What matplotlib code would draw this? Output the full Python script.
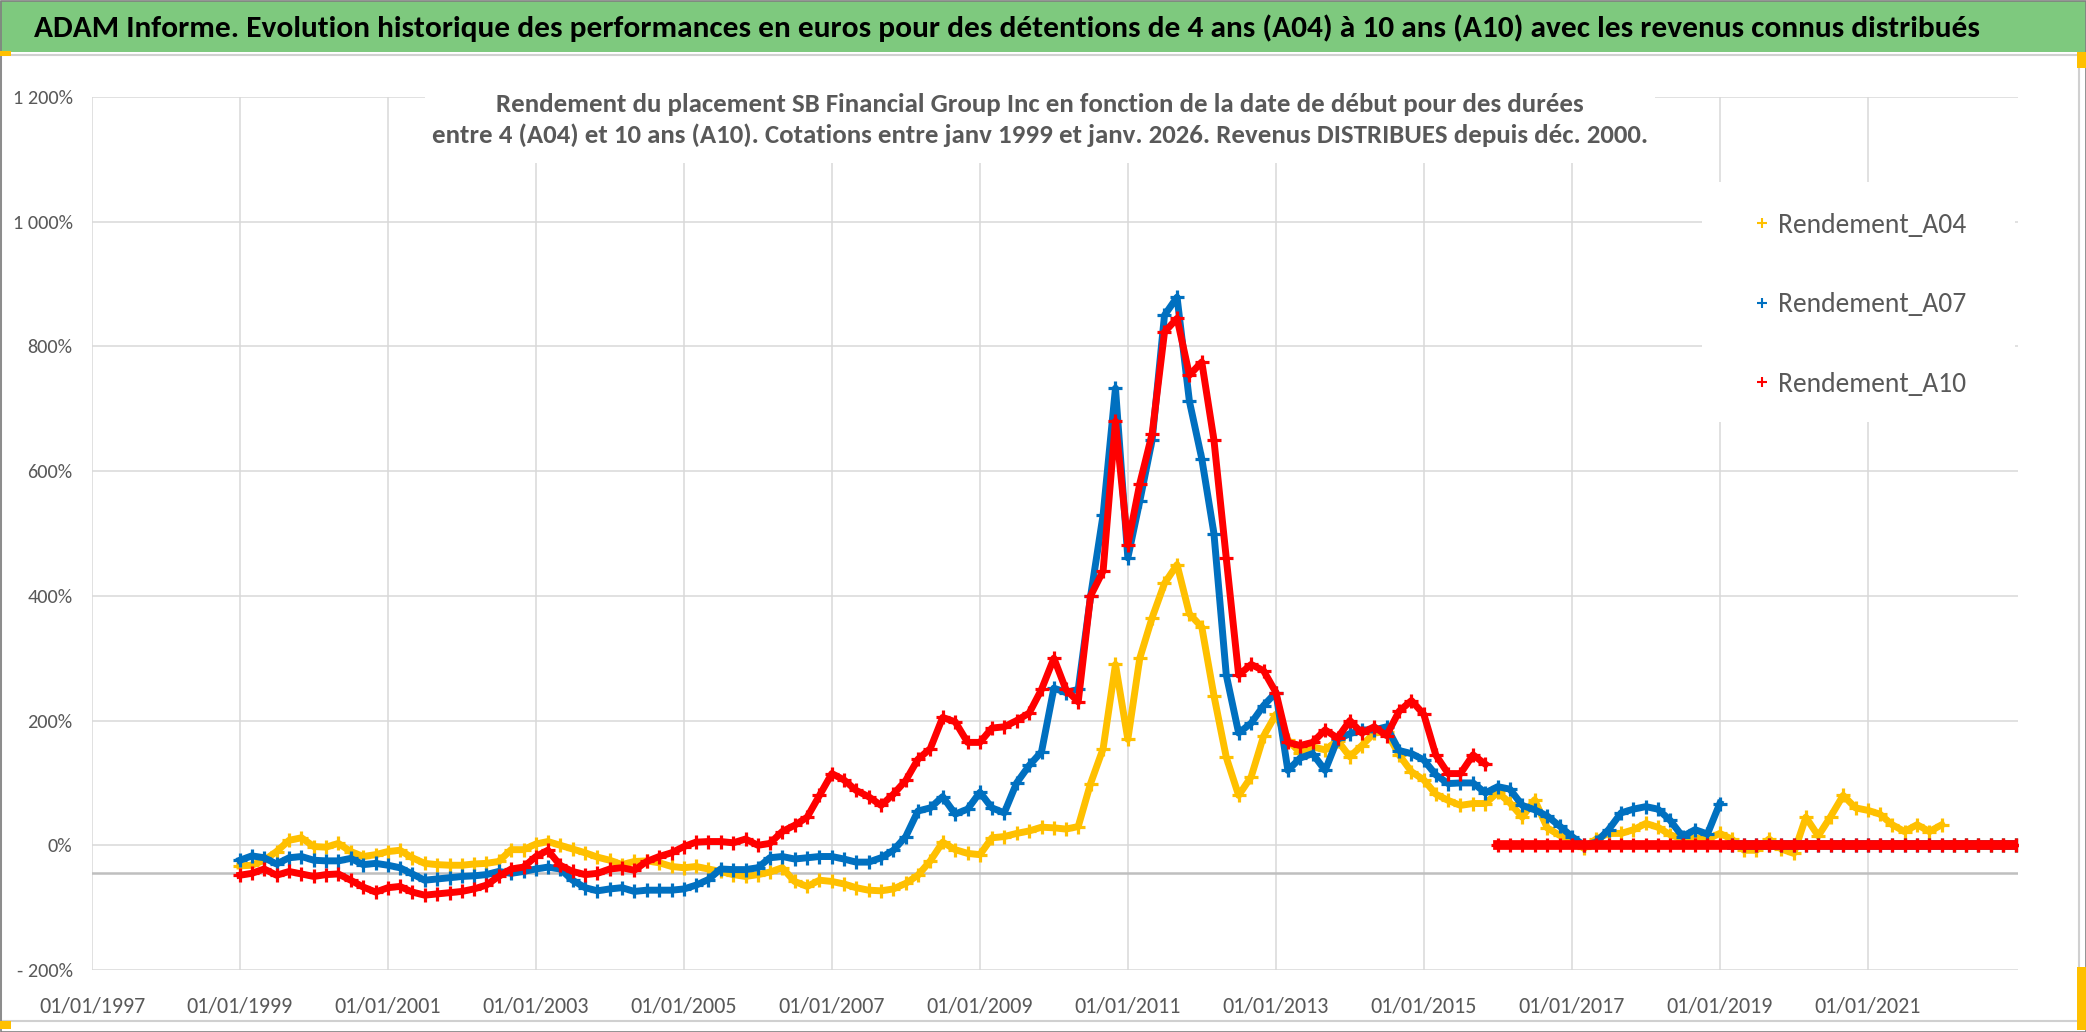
import matplotlib
matplotlib.use('Agg')
import matplotlib.pyplot as plt
from matplotlib.lines import Line2D
from matplotlib.patches import Rectangle
from matplotlib.ticker import FuncFormatter
import numpy as np
import pandas as pd

plt.rcParams['font.family'] = ['Carlito', 'Archivo Narrow', 'DejaVu Sans']

# start dates, every two months from Jan 1999 to Jan 2023
dates = pd.date_range('1999-01-01', periods=145, freq='2MS')

# return in %, one row per year (6 values), trailing zeros = no known return
rendement_a04 = [
    -33, -32, -24, -10, 8, 12,        # 1999
    -2, -3, 3, -10, -18, -15,         # 2000
    -10, -8, -20, -29, -31, -32,      # 2001
    -32, -30, -29, -26, -7, -7,       # 2002
    2, 6, 0, -6, -12, -19,            # 2003
    -24, -31, -26, -25, -28, -34,     # 2004
    -36, -34, -38, -42, -47, -50,     # 2005
    -47, -43, -36, -58, -66, -56,     # 2006
    -58, -62, -68, -72, -73, -70,     # 2007
    -61, -48, -25, 5, -7, -13,        # 2008
    -15, 12, 14, 19, 23, 29,          # 2009
    28, 26, 30, 99, 155, 290,         # 2010
    170, 300, 365, 420, 450, 371,     # 2011
    350, 240, 141, 80, 110, 175,      # 2012
    210, 169, 148, 158, 153, 168,     # 2013
    142, 160, 180, 182, 145, 118,     # 2014
    105, 82, 72, 64, 67, 67,          # 2015
    85, 68, 45, 73, 28, 16,           # 2016
    9, -5, 10, 19, 19, 25,            # 2017
    35, 29, 17, 10, 12, 10,           # 2018
    19, 10, -8, -8, 10, -6,           # 2019
    -13, 45, 15, 46, 80, 60,          # 2020
    56, 50, 33, 22, 33, 22,           # 2021
    33, 0, 0, 0, 0, 0,                # 2022
    0,                                # 2023
]

rendement_a07 = [
    -24, -17, -20, -30, -20, -18,     # 1999
    -24, -25, -25, -21, -31, -29,     # 2000
    -32, -36, -46, -56, -54, -52,     # 2001
    -50, -49, -47, -42, -45, -42,     # 2002
    -38, -35, -38, -56, -68, -73,     # 2003
    -70, -68, -74, -72, -72, -72,     # 2004
    -70, -64, -55, -38, -39, -39,     # 2005
    -36, -20, -18, -22, -20, -18,     # 2006
    -18, -22, -27, -27, -20, -8,      # 2007
    14, 55, 60, 78, 50, 58,           # 2008
    85, 60, 52, 100, 128, 150,        # 2009
    252, 245, 250, 399, 530, 733,     # 2010
    461, 552, 650, 850, 879, 712,     # 2011
    620, 500, 273, 180, 196, 224,     # 2012
    245, 120, 140, 147, 120, 170,     # 2013
    179, 185, 185, 190, 152, 147,     # 2014
    137, 113, 99, 100, 100, 84,       # 2015
    94, 90, 64, 57, 47, 31,           # 2016
    14, 0, 5, 25, 52, 58,             # 2017
    62, 58, 40, 14, 25, 18,           # 2018
    67, 0, 0, 0, 0, 0,                # 2019
    0, 0, 0, 0, 0, 0,                 # 2020
    0, 0, 0, 0, 0, 0,                 # 2021
    0, 0, 0, 0, 0, 0,                 # 2022
    0,                                # 2023
]

rendement_a10 = [
    -48, -45, -38, -48, -42, -46,     # 1999
    -50, -47, -46, -56, -67, -75,     # 2000
    -68, -66, -75, -80, -78, -76,     # 2001
    -74, -70, -64, -50, -38, -35,     # 2002
    -18, -8, -32, -42, -47, -45,      # 2003
    -38, -36, -40, -26, -18, -12,     # 2004
    -2, 5, 6, 6, 4, 10,               # 2005
    0, 3, 22, 32, 45, 80,             # 2006
    115, 105, 88, 78, 64, 82,         # 2007
    104, 138, 155, 205, 198, 165,     # 2008
    165, 188, 190, 200, 212, 250,     # 2009
    300, 250, 230, 400, 440, 680,     # 2010
    482, 580, 660, 823, 845, 754,     # 2011
    775, 650, 460, 273, 290, 280,     # 2012
    245, 165, 160, 165, 185, 172,     # 2013
    200, 180, 190, 176, 215, 232,     # 2014
    210, 145, 115, 115, 145, 130,     # 2015
    0, 0, 0, 0, 0, 0,                 # 2016
    0, 0, 0, 0, 0, 0,                 # 2017
    0, 0, 0, 0, 0, 0,                 # 2018
    0, 0, 0, 0, 0, 0,                 # 2019
    0, 0, 0, 0, 0, 0,                 # 2020
    0, 0, 0, 0, 0, 0,                 # 2021
    0, 0, 0, 0, 0, 0,                 # 2022
    0,                                # 2023
]

series = [
    ('Rendement_A04', rendement_a04, '#FFC000'),
    ('Rendement_A07', rendement_a07, '#0070C0'),
    ('Rendement_A10', rendement_a10, '#FF0000'),
]

tick_years = list(range(1997, 2022, 2))
y_ticks = list(range(-200, 1201, 200))

title = ("ADAM Informe. Evolution historique des performances en euros pour des "
         "détentions de 4 ans (A04) à 10 ans (A10) avec les revenus connus distribués")
subtitle = ("Rendement du placement SB Financial Group Inc en fonction de la date de début pour des durées\n"
            "entre 4 (A04) et 10 ans (A10). Cotations entre janv 1999 et janv. 2026. "
            "Revenus DISTRIBUES depuis déc. 2000.")

W, H = 2086, 1032
TXT = '#595959'


def fx(px):
    return px / W


def fy(py):
    return 1 - py / H


def fig_rect(fig, x0, y0, x1, y1, **kw):
    r = Rectangle((fx(x0), fy(y1)), fx(x1) - fx(x0), fy(y0) - fy(y1),
                  transform=fig.transFigure, **kw)
    fig.add_artist(r)
    return r


def pct_label(v, pos):
    if v < 0:
        return '- {:,.0f}%'.format(-v).replace(',', ' ')
    return '{:,.0f}%'.format(v).replace(',', ' ')


fig = plt.figure(figsize=(W / 100, H / 100), dpi=100)
ax = fig.add_axes([fx(92), fy(970), fx(2018) - fx(92), fy(97) - fy(970)])

for i, (label, vals, color) in enumerate(series):
    v = np.array(vals, dtype=float)
    n = len(v)
    while n > 0 and v[n - 1] == 0:
        n -= 1
    z = 3 + i
    ax.plot(dates[:n], v[:n], color=color, lw=5, zorder=z, solid_joinstyle='round')
    ax.plot(dates[n:], v[n:], color=color, lw=7, zorder=z)
    ax.plot(dates, v, ls='none', marker='+', ms=9.5, mew=2.3, color=color, zorder=z)

ax.set_xlim(pd.Timestamp('1997-01-01'), pd.Timestamp('2023-01-12'))
ax.set_ylim(-200, 1200)
ax.set_xticks([pd.Timestamp(f'{y}-01-01') for y in tick_years])
ax.set_xticklabels([f'01/01/{y}' for y in tick_years])
ax.set_yticks(y_ticks)
ax.yaxis.set_major_formatter(FuncFormatter(pct_label))
ax.grid(True, color='#D9D9D9', lw=1.1, zorder=0)
ax.set_axisbelow(True)
ax.axhline(-44, color='#BFBFBF', lw=1.8, zorder=1)
for s in ax.spines.values():
    s.set_visible(False)
ax.tick_params(axis='both', length=0, labelcolor=TXT)
ax.tick_params(axis='y', pad=14, labelsize=14.6)
ax.tick_params(axis='x', pad=19, labelsize=15.8)

# header band and chart frame
fig_rect(fig, 0, 1, W, 52, facecolor='#7EC97E', edgecolor='none', zorder=5)
fig_rect(fig, 1, 55, 2079, 1021, facecolor='none', edgecolor='#D0D0D0', lw=1.5, zorder=5)
fig_rect(fig, 0.5, 0.5, W - 0.5, H - 0.5, facecolor='none', edgecolor='#808080', lw=1.2, zorder=6)
for box in [(0, 51, 11, 56), (2077, 52, W, 68), (2077, 967, W, 1030), (0, 1021, 11, 1029)]:
    fig_rect(fig, *box, facecolor='#FFC000', edgecolor='none', zorder=7)

fig.text(fx(1007), fy(28), title, ha='center', va='center', fontsize=22.6,
         fontweight='bold', color='black', zorder=8)

# subtitle box and legend box hide the grid behind them
fig_rect(fig, 425, 75, 1655, 163, facecolor='white', edgecolor='none', zorder=5)
fig.text(fx(1040), fy(120), subtitle, ha='center', va='center', fontsize=19.4,
         fontweight='bold', color=TXT, linespacing=1.35, zorder=8)

fig_rect(fig, 1702, 182, 2015, 422, facecolor='white', edgecolor='none', zorder=5)
handles = [Line2D([], [], ls='none', marker='+', ms=7, mew=1.5, color=c) for _, _, c in series]
leg = fig.legend(handles, [s[0] for s in series], loc='upper left',
                 bbox_to_anchor=(fx(1748), fy(213)), frameon=False, fontsize=19.8,
                 labelcolor=TXT, handlelength=1.0, handletextpad=0.1,
                 labelspacing=1.98, borderpad=0, borderaxespad=0)
leg.set_zorder(8)

fig.savefig('out.png', dpi=100)
